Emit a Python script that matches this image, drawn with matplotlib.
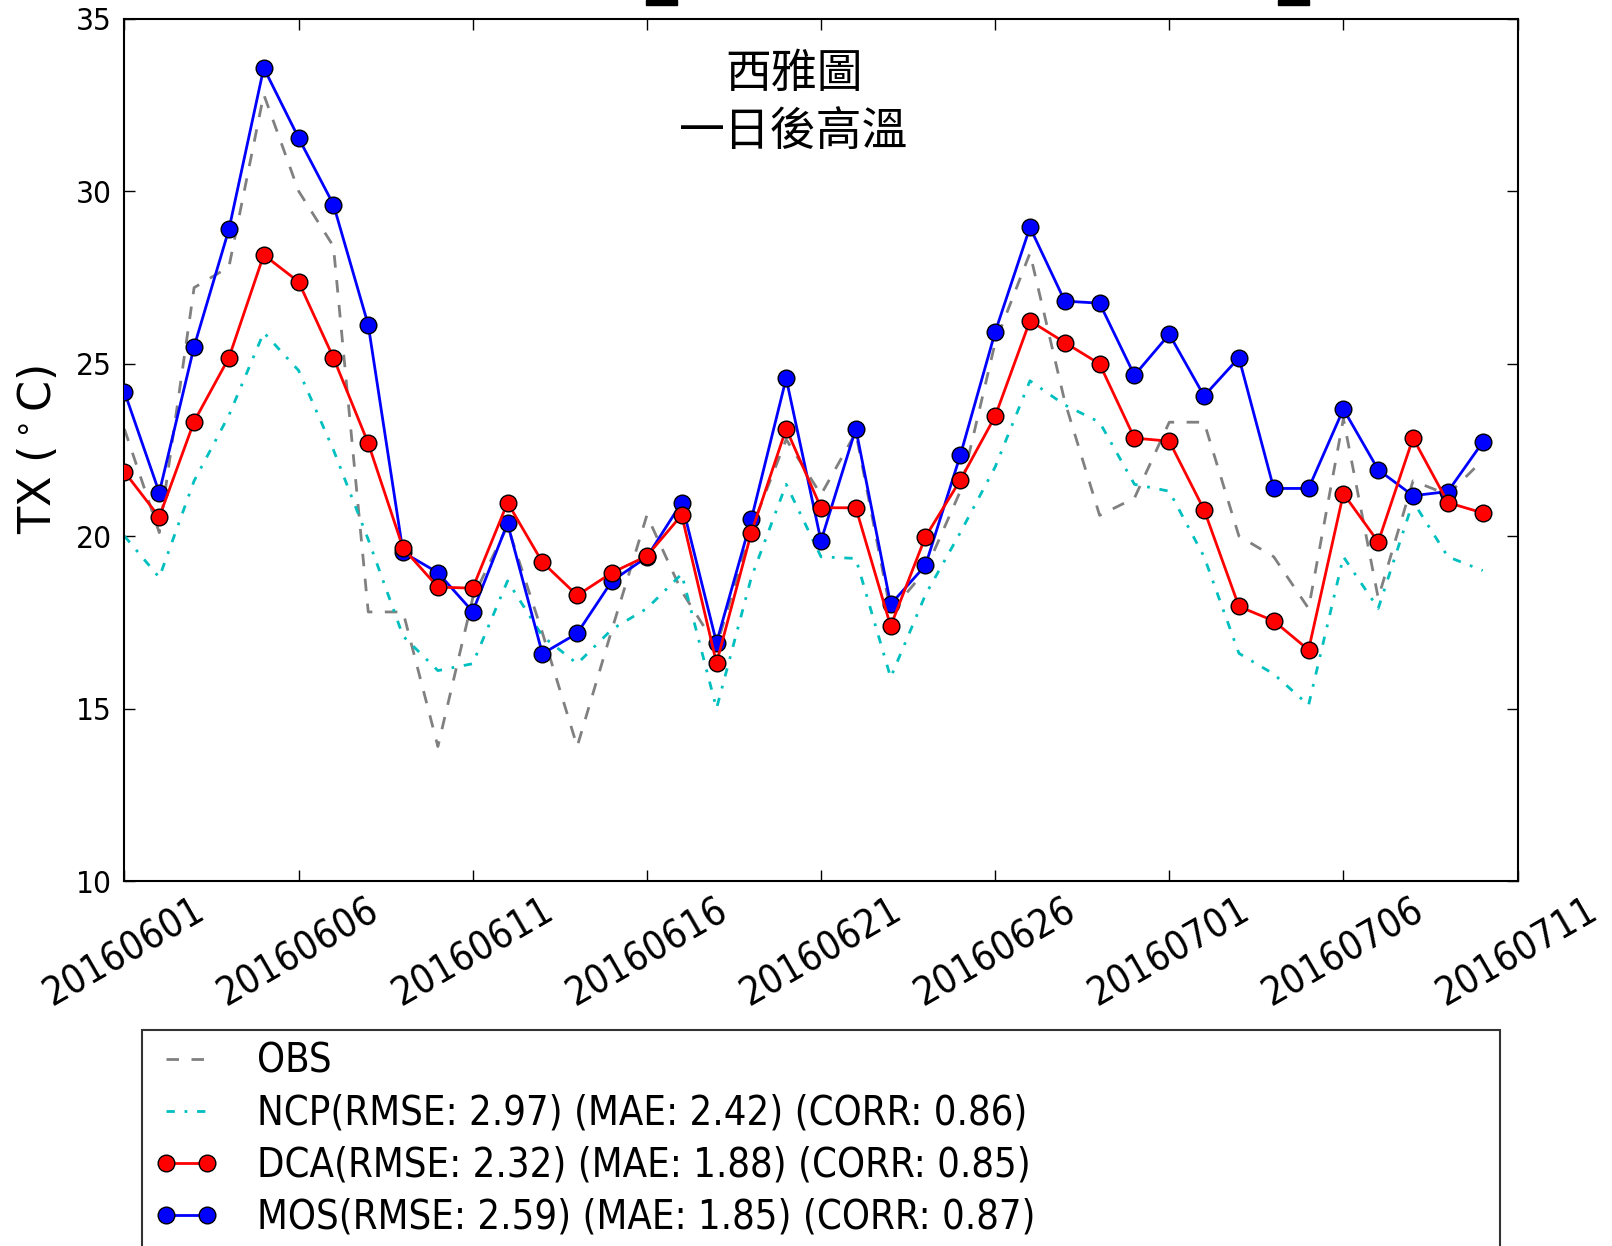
import matplotlib
matplotlib.use("Agg")
import numpy as np
import matplotlib.pyplot as plt
from matplotlib.patches import Rectangle
from matplotlib import font_manager

# daily values, 20160601 .. 20160710
obs = [23.1, 20.1, 27.2, 27.8, 32.8, 30.0, 28.4, 17.8, 17.8, 13.9,
       18.2, 20.3, 17.2, 13.9, 17.3, 20.6, 18.4, 16.8, 20.2, 22.8,
       21.2, 23.0, 17.8, 19.0, 21.3, 25.6, 28.2, 23.9, 20.6, 21.1,
       23.3, 23.3, 20.0, 19.4, 17.9, 23.4, 18.2, 21.6, 21.2, 22.2]
ncp = [20.0, 18.8, 21.6, 23.5, 25.9, 24.8, 22.5, 19.9, 17.1, 16.1,
       16.3, 18.7, 17.1, 16.3, 17.3, 17.9, 18.9, 15.0, 18.8, 21.5,
       19.4, 19.35, 15.9, 18.3, 20.1, 22.0, 24.5, 23.8, 23.3, 21.5,
       21.3, 19.4, 16.6, 16.0, 15.1, 19.4, 17.9, 21.0, 19.4, 19.0]
dca = [21.86, 20.55, 23.32, 25.17, 28.15, 27.37, 25.17, 22.69, 19.65, 18.52,
       18.49, 20.97, 19.24, 18.28, 18.94, 19.42, 20.61, 16.32, 20.10, 23.11,
       20.82, 20.82, 17.39, 19.98, 21.62, 23.47, 26.24, 25.61, 24.99, 22.84,
       22.75, 20.76, 17.96, 17.54, 16.70, 21.23, 19.83, 22.84, 20.97, 20.67]
mos = [24.18, 21.26, 25.49, 28.89, 33.57, 31.54, 29.61, 26.12, 19.53, 18.94,
       17.81, 20.37, 16.59, 17.18, 18.70, 19.39, 20.97, 16.91, 20.49, 24.57,
       19.86, 23.11, 18.02, 19.15, 22.34, 25.91, 28.95, 26.81, 26.75, 24.66,
       25.85, 24.06, 25.17, 21.38, 21.38, 23.68, 21.92, 21.17, 21.29, 22.72]

tick_labels = ["20160601", "20160606", "20160611", "20160616", "20160621",
               "20160626", "20160701", "20160706", "20160711"]
labels = ["OBS",
          "NCP(RMSE: 2.97) (MAE: 2.42) (CORR: 0.86)",
          "DCA(RMSE: 2.32) (MAE: 1.88) (CORR: 0.85)",
          "MOS(RMSE: 2.59) (MAE: 1.85) (CORR: 0.87)"]

# narrower glyphs if a condensed DejaVu is installed
have_cond = any("DejaVuSansCondensed" in f.replace("-", "")
                for f in font_manager.findSystemFonts())
stretch = "condensed" if have_cond else "normal"
k = 1.1 if have_cond else 1.0

fig = plt.figure(figsize=(16.12, 12.46), dpi=100)
ax = fig.add_axes([0.0772, 0.2929, 0.8642, 0.6922])

x = np.arange(len(obs))
l_obs, = ax.plot(x, obs, color="gray", lw=2, linestyle=(0, (4.5, 4.5)), zorder=2)
l_ncp, = ax.plot(x, ncp, color="c", lw=2, linestyle=(0, (3, 3.5, 1, 3.5)), zorder=2)
l_mos, = ax.plot(x, mos, "b-", lw=2, marker="o", ms=12, mec="k", mew=1, zorder=3)
l_dca, = ax.plot(x, dca, "r-", lw=2, marker="o", ms=12, mec="k", mew=1, zorder=4)

ax.set_xlim(0, 40)
ax.set_ylim(10, 35)
ax.set_xticks(range(0, 41, 5))
ax.set_xticklabels(tick_labels, rotation=30, ha="center",
                   fontsize=25.5 * k, fontstretch=stretch)
ax.set_yticks(range(10, 36, 5))
ax.set_yticklabels([str(v) for v in range(10, 36, 5)],
                   fontsize=20.5 * k, fontstretch=stretch)
ax.tick_params(direction="in", length=8, width=1, top=True, right=True)
ax.tick_params(axis="x", pad=7)
ax.tick_params(axis="y", pad=9)
for s in ax.spines.values():
    s.set_linewidth(1.5)

ax.set_ylabel(r"TX ($^\circ$C)", fontsize=32)
ax.yaxis.set_label_coords(-0.046, 0.5)

cjk = ["Noto Sans CJK TC", "DejaVu Sans"]
ax.text(0.4807, 0.9357, "西雅圖", transform=ax.transAxes, ha="center",
        va="center", fontsize=33, family=cjk)
ax.text(0.4807, 0.8689, "一日後高溫", transform=ax.transAxes, ha="center",
        va="center", fontsize=33, family=cjk)

# bits of cropped text at the very top
for x0 in (645.6, 1278.0):
    fig.patches.append(Rectangle((x0 / 1612, 1 - 5 / 1246), 31 / 1612, 5 / 1246,
                                 transform=fig.transFigure, color="k"))

leg = ax.legend([l_obs, l_ncp, l_dca, l_mos], labels, loc="upper left",
                bbox_to_anchor=(0.088, 0.0, 0.8425, 0.1734),
                bbox_transform=fig.transFigure, mode="expand", borderaxespad=0,
                prop={"size": 26 * k, "stretch": stretch}, numpoints=2,
                handlelength=1.65, handletextpad=0.95,
                labelspacing=0.3, borderpad=0.3, fancybox=False)
leg.get_frame().set_edgecolor("k")
leg.get_frame().set_linewidth(1.5)

fig.savefig("out.png", dpi=100)
